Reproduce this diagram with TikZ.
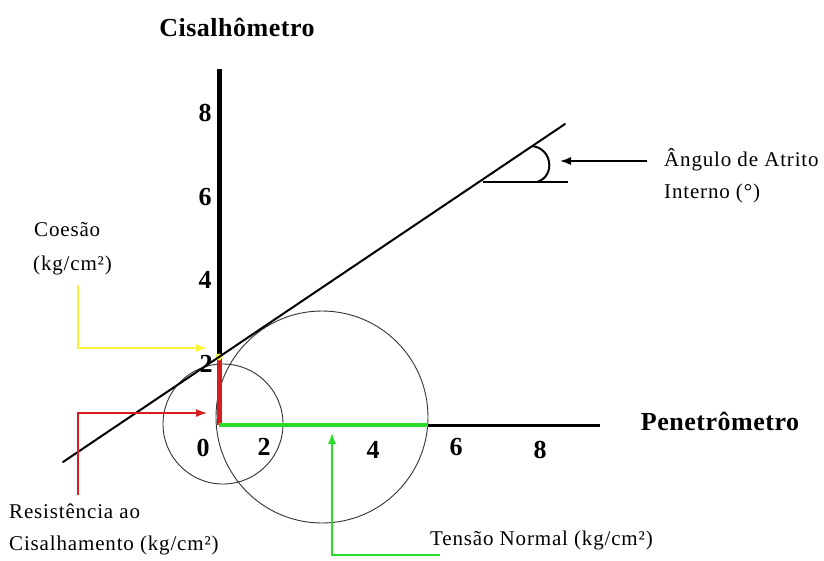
\documentclass[tikz,border=0pt]{standalone}
\usepackage{fontspec}
\setmainfont{Liberation Serif}
\newfontfamily\labfont[LetterSpace=4]{Liberation Serif}
\newfontfamily\boldfont[LetterSpace=2]{Liberation Serif}
\usetikzlibrary{arrows.meta}
\definecolor{yel}{RGB}{250,245,60}
\definecolor{grn}{RGB}{40,220,40}
\definecolor{rd}{RGB}{215,30,30}
\begin{document}
\begin{tikzpicture}[x=1pt,y=-1pt,
  bold/.style={font=\boldfont\fontsize{26}{28}\selectfont\bfseries, inner sep=0pt},
  tick/.style={font=\rmfamily\fontsize{26}{28}\selectfont\bfseries, inner sep=0pt},
  lab/.style={font=\labfont\fontsize{21}{23}\selectfont, inner sep=0pt, anchor=west},
  conn/.style={line width=1.3pt, -{Latex[length=11pt,width=8pt]}},
  thin/.style={line width=0.9pt, black!80}]
\useasboundingbox (0,0) rectangle (824,560);
\fill[white] (0,0) rectangle (824,560);
% coordinates
\coordinate (O) at (219,425);
\coordinate (ytop) at (219,69);
\coordinate (xend) at (600,425);
\coordinate (redtop) at (219,360);
\coordinate (grnend) at (428,425);
\coordinate (d1) at (63,462);
\coordinate (d2) at (565,124);
\coordinate (v) at (483,182);
\coordinate (h2) at (568,182);
% circles
\draw[thin] (223,424) circle[radius=60];
\draw[thin] (322,417) circle[radius=106];
% axes
\draw[line width=5pt] (ytop) -- (O);
\draw[line width=3pt] (O) -- (xend);
\draw[line width=5pt, rd] (O) -- (redtop);
\draw[line width=4pt, grn] (O) -- (grnend);
\fill[yel] (219,357) circle[radius=3.5];
% diagonal
\draw[line width=2pt, line cap=round] (d1) -- (d2);
% angle
\draw[line width=2pt] (v) -- (h2);
\draw[line width=2pt] (537,182) .. controls (556,176) and (552,148) .. (532,146);
% labels
\node[bold] (cis) at (237,27) {Cisalhômetro};
\node[bold] (pen) at (720,421) {Penetrômetro};
\node[tick] (y8) at (205,113) {8};
\node[tick] (y6) at (205,197) {6};
\node[tick] (y4) at (205,280) {4};
\node[tick] (y2) at (206,364) {2};
\node[tick] (x0) at (203,448) {0};
\node[tick] (x2) at (264,447) {2};
\node[tick] (x4) at (373,450) {4};
\node[tick] (x6) at (456,447) {6};
\node[tick] (x8) at (540,450) {8};
\node[lab] (coe1) at (34,230) {Coesão};
\node[lab] (coe2) at (33,265) {(kg/cm²)};
\node[lab] (ang1) at (664,160) {Ângulo de Atrito};
\node[lab] (ang2) at (664,193) {Interno (°)};
\node[lab] (res1) at (9,511) {Resistência ao};
\node[lab] (res2) at (9,545) {Cisalhamento (kg/cm²)};
\node[lab] (ten) at (430,540) {Tensão Normal (kg/cm²)};
% connectors
\coordinate (ys) at (78,285);
\coordinate (yc) at (78,348);
\coordinate (ye) at (207,348);
\draw[conn, yel] (ys) -- (yc) -- (ye);
\coordinate (rs) at (78,495);
\coordinate (rc) at (78,413);
\coordinate (re) at (207,413);
\draw[conn, rd] (rs) -- (rc) -- (re);
\coordinate (gs) at (440,555);
\coordinate (gc) at (332,555);
\coordinate (ge) at (332,433);
\draw[conn, grn] (gs) -- (gc) -- (ge);
\coordinate (as) at (647,161);
\coordinate (ae) at (560,161);
\draw[conn, black] (as) -- (ae);
\end{tikzpicture}
\end{document}
